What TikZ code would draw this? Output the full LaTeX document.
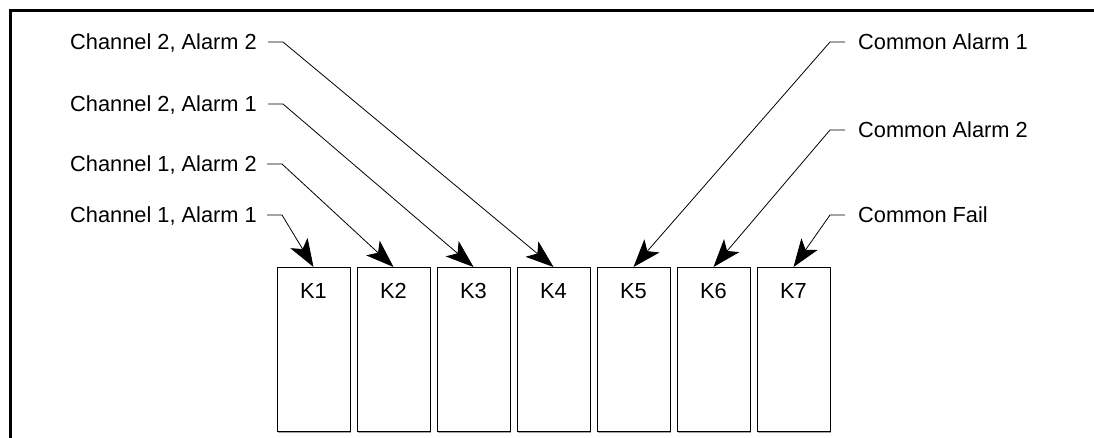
\documentclass[tikz,border=0pt]{standalone}
\usepackage{fontspec}
\setmainfont{Liberation Sans}
\usetikzlibrary{arrows.meta,shadows}
\begin{document}
\begin{tikzpicture}[x=1pt,y=-1pt,
  lbl/.style={font=\fontsize{21.8}{26}\selectfont, text height=15.5pt, text depth=0pt, inner sep=0pt},
  kbox/.style={draw, line width=1pt, fill=white, minimum width=73pt, minimum height=164pt, inner sep=0pt, anchor=north,
     general shadow={fill=gray!70, shadow xshift=1.3pt, shadow yshift=-1.3pt}},
  arr/.style={line width=0.8pt, -{Stealth[length=28pt, width=20pt, inset=7pt]}},
  frame/.style={line width=3pt}]
\useasboundingbox (0,0) rectangle (1094,438);
\draw[frame] (10,438) -- (10,11) -- (1096,11);
% boxes
\foreach \i in {1,...,7}{
  \node[kbox] (k\i) at ({313.5+80*(\i-1)},267) {};
  \node[lbl] (t\i) at ({313.5+80*(\i-1)},290.5) {K\i};
}
% left labels
\node[lbl, anchor=west] (c22) at (70,42) {Channel 2, Alarm 2};
\node[lbl, anchor=west] (c21) at (70,104) {Channel 2, Alarm 1};
\node[lbl, anchor=west] (c12) at (70,164) {Channel 1, Alarm 2};
\node[lbl, anchor=west] (c11) at (70,215) {Channel 1, Alarm 1};
% right labels
\node[lbl, anchor=west] (ca1) at (858,42) {Common Alarm 1};
\node[lbl, anchor=west] (ca2) at (858,130) {Common Alarm 2};
\node[lbl, anchor=west] (cf) at (858,215) {Common Fail};
% leaders
\coordinate (l22) at (268,42);  \coordinate (m22) at (283,42);
\coordinate (l21) at (268,104); \coordinate (m21) at (283,104);
\coordinate (l12) at (267,164); \coordinate (m12) at (282,164);
\coordinate (l11) at (267,215); \coordinate (m11) at (282,215);
\coordinate (r1) at (845,42);  \coordinate (s1) at (830,42);
\coordinate (r2) at (845,130); \coordinate (s2) at (830,130);
\coordinate (r3) at (845,215); \coordinate (s3) at (830,215);
\draw[arr] (l11) -- (m11) -- (k1.north);
\draw[arr] (l12) -- (m12) -- (k2.north);
\draw[arr] (l21) -- (m21) -- (k3.north);
\draw[arr] (l22) -- (m22) -- (k4.north);
\draw[arr] (r1) -- (s1) -- (k5.north);
\draw[arr] (r2) -- (s2) -- (k6.north);
\draw[arr] (r3) -- (s3) -- (k7.north);
\end{tikzpicture}
\end{document}
